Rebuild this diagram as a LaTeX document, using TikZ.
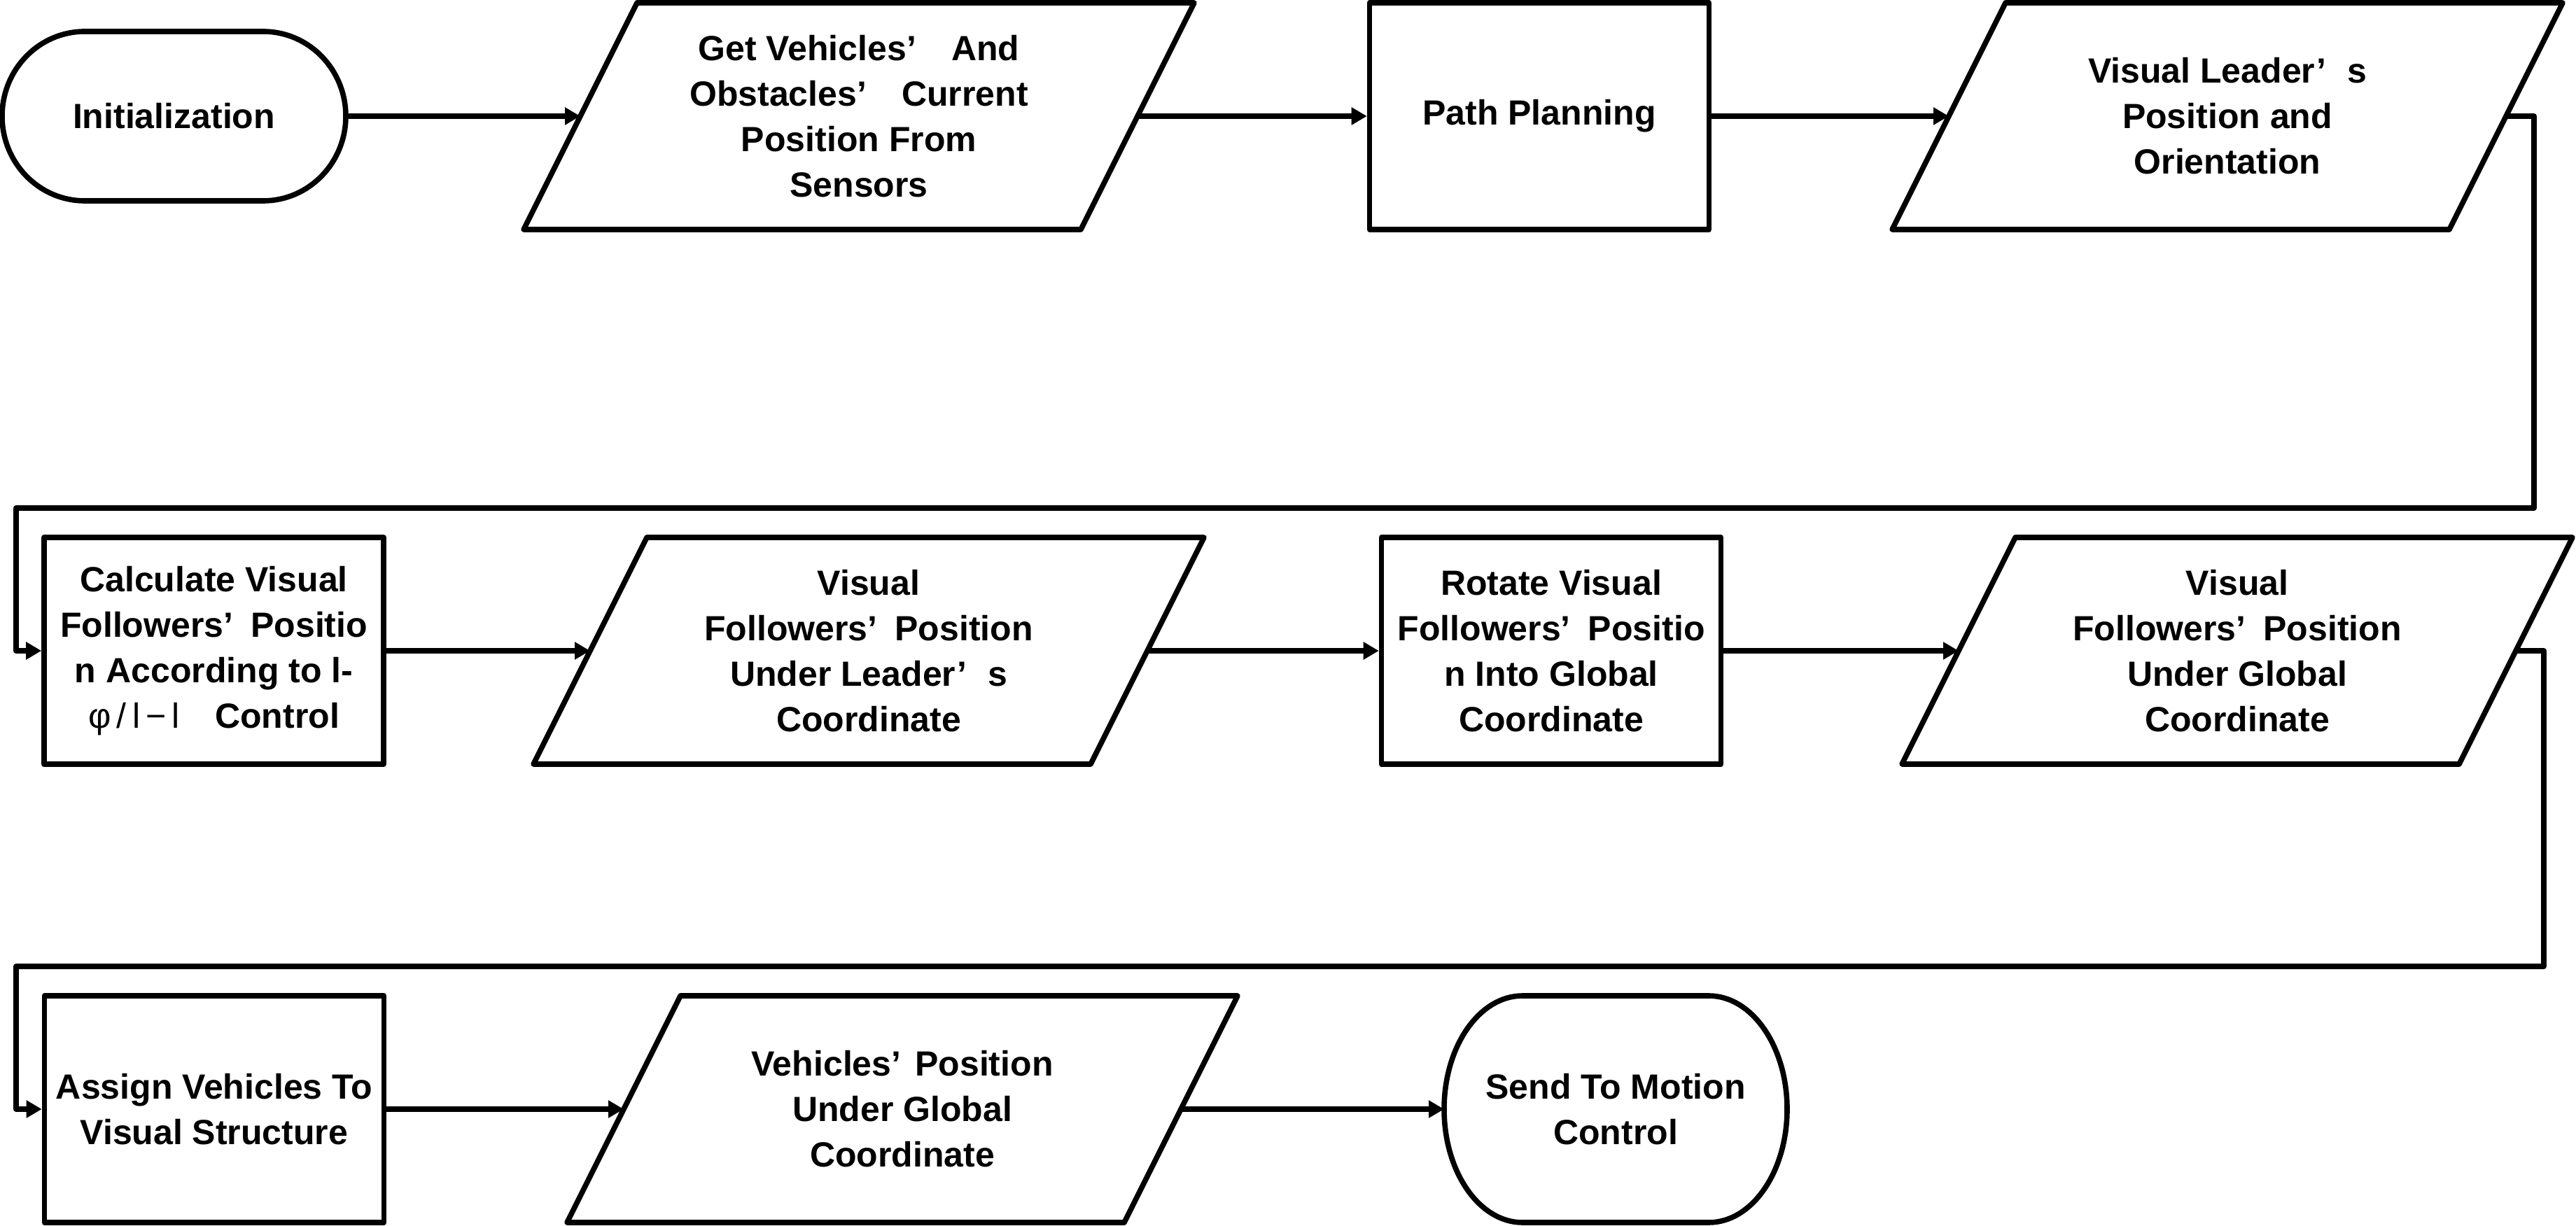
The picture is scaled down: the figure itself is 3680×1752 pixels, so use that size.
\documentclass[tikz,border=0pt]{standalone}
\usepackage{fontspec}
\setmainfont{Liberation Sans}
\usetikzlibrary{arrows.meta}
\tikzset{
  ln/.style={line width=1.9pt, line join=round, line cap=round},
  conn/.style={ln, -{Triangle[length=5.5pt,width=6pt]}},
  txt/.style={align=center, font=\bfseries\fontsize{12.5}{16.25}\selectfont, inner sep=0pt},
  procbox/.style={txt, ln, draw, rectangle, minimum width=121.25pt, minimum height=81pt},
}
% parallelogram: name, cx, cy, text
\newcommand\mypara[4]{%
  \node[txt] (#1) at (#2,#3) {#4};
  \draw[ln] ({#2-317},{#3-162}) -- ({#2+479},{#3-162}) -- ({#2+317},{#3+162}) -- ({#2-479},{#3+162}) -- cycle;
  \coordinate (#1-w) at ({#2-398},#3);
  \coordinate (#1-e) at ({#2+398},#3);
}
% terminator: name, cx, cy, halfwidth, halfheight, end width (px), end x radius, end y radius, text
\newcommand\mystadium[9]{%
  \node[txt] (#1) at (#2,#3) {#9};
  \draw[ln] ({#2-#4+#6},{#3-#5}) -- ({#2+#4-#6},{#3-#5})
     arc[start angle=90, end angle=-90, x radius=#7, y radius=#8]
     -- ({#2-#4+#6},{#3+#5})
     arc[start angle=270, end angle=90, x radius=#7, y radius=#8] -- cycle;
  \coordinate (#1-w) at ({#2-#4},#3);
  \coordinate (#1-e) at ({#2+#4},#3);
}
\begin{document}
\begin{tikzpicture}[x=0.25pt,y=-0.25pt]
\fill[white] (0,0) rectangle (3680,1752);
\useasboundingbox (0,0) rectangle (3680,1752);

% row 1
\mystadium{init}{248.5}{166}{245.5}{121}{118}{29.5pt}{30.25pt}{Initialization}
\mypara{p1}{1227}{166}{Get Vehicles’\hspace{1em}And\\Obstacles’\hspace{1em}Current\\Position From\\Sensors}
\node[procbox] (pp) at (2199,166) {Path Planning};
\mypara{p4}{3182}{166}{Visual Leader’\hspace{0.6em}s\\Position and\\Orientation}

% row 2
\node[procbox] (calc) at (305.5,930) {Calculate Visual\\Followers’\hspace{0.5em}Positio\\n According to l-\\{\mdseries φ\,/\,l\,−\,l}\hspace{1em}Control};
\mypara{p2}{1241}{930}{Visual\\Followers’\hspace{0.5em}Position\\Under Leader’\hspace{0.6em}s\\Coordinate}
\node[procbox] (rot) at (2216,930) {Rotate Visual\\Followers’\hspace{0.5em}Positio\\n Into Global\\Coordinate};
\mypara{p3}{3196}{930}{Visual\\Followers’\hspace{0.5em}Position\\Under Global\\Coordinate}

% row 3
\node[procbox] (assign) at (306,1585) {Assign Vehicles To\\Visual Structure};
\mypara{p5}{1289}{1585}{Vehicles’\hspace{0.4em}Position\\Under Global\\Coordinate}
\mystadium{send}{2308}{1585}{245}{162}{112}{28pt}{40.5pt}{Send To Motion\\Control}

% routing points
\coordinate (r1) at (3620,726);
\coordinate (l1) at (23,726);
\coordinate (r2) at (3634,1381);
\coordinate (l2) at (23,1381);

% connectors
\draw[conn] (init-e) -- (p1-w);
\draw[conn] (p1-e) -- (pp.west);
\draw[conn] (pp.east) -- (p4-w);
\draw[conn] (p4-e) -| (r1) -- (l1) |- (calc.west);
\draw[conn] (calc.east) -- (p2-w);
\draw[conn] (p2-e) -- (rot.west);
\draw[conn] (rot.east) -- (p3-w);
\draw[conn] (p3-e) -| (r2) -- (l2) |- (assign.west);
\draw[conn] (assign.east) -- (p5-w);
\draw[conn] (p5-e) -- (send-w);
\end{tikzpicture}
\end{document}
